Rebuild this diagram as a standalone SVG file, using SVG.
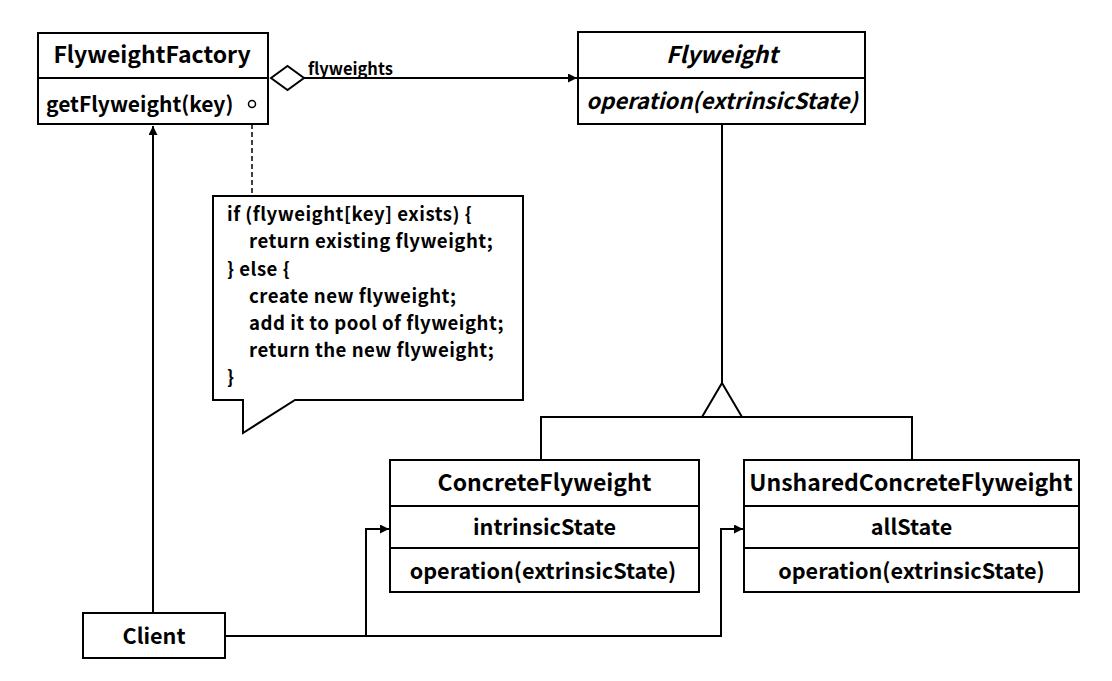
<svg xmlns="http://www.w3.org/2000/svg" width="1112" height="681" viewBox="0 0 1112 681">
<style>
.box{fill:#fff;stroke:#000;stroke-width:2}
.ln{fill:none;stroke:#000;stroke-width:2}
text{font-family:"Noto Sans CJK KR","Noto Sans",sans-serif;font-weight:bold;fill:#000}
.t{font-size:23px;text-anchor:middle}
.m{font-size:21.6px;text-anchor:middle}
.it{font-style:italic}
.n{font-size:18.6px;letter-spacing:0.5px}
.lbl{font-size:16.5px}
</style>
<defs>
<marker id="arr" viewBox="0 0 10 10" refX="10" refY="5" markerWidth="9" markerHeight="9" markerUnits="userSpaceOnUse" orient="auto">
<path d="M0,0 L10,5 L0,10 z" fill="#000"/>
</marker>
</defs>
<rect width="1112" height="681" fill="#fff"/>
<g id="connectors">
<line class="ln" x1="304" y1="78" x2="577" y2="78" marker-end="url(#arr)"/>
<polygon class="box" points="271,78 287.5,66 304,78 287.5,90"/>
<line class="ln" x1="153" y1="613" x2="153" y2="126" marker-end="url(#arr)"/>
<line x1="252" y1="108" x2="252" y2="196" stroke="#000" stroke-width="1.5" stroke-dasharray="5,3"/>
<polyline class="ln" points="722,124 722,383"/>
<polygon class="box" points="722,383 742,417 702,417"/>
<polyline class="ln" points="541,460 541,417 912,417 912,460"/>
<polyline class="ln" points="225,636 721,636 721,529 743,529" marker-end="url(#arr)"/>
<polyline class="ln" points="366,636 366,529 389,529" marker-end="url(#arr)"/>
</g>
<g id="FlyweightFactory">
<rect class="box" x="38" y="33" width="230" height="91"/>
<line class="ln" x1="38" y1="78" x2="268" y2="78"/>
<text class="t" x="152" y="63">FlyweightFactory</text>
<text x="46" y="112" font-size="21">getFlyweight(key)</text>
<circle cx="252" cy="104" r="3.5" fill="#fff" stroke="#000" stroke-width="1.5"/>
</g>
<g id="flyweights-label">
<text class="lbl" x="308" y="75">flyweights</text>
</g>
<g id="Flyweight">
<rect class="box" x="578" y="32" width="287" height="92"/>
<line class="ln" x1="578" y1="78" x2="865" y2="78"/>
<text class="t it" x="722" y="63">Flyweight</text>
<text class="it" x="722" y="109" font-size="22" text-anchor="middle">operation(extrinsicState)</text>
</g>
<g id="note">
<path class="box" d="M213,196 H523 V400 H295 L243,433 V400 H213 Z"/>
<text class="n" x="227" y="221">if (flyweight[key] exists) {</text>
<text class="n" x="249" y="248">return existing flyweight;</text>
<text class="n" x="227" y="276">} else {</text>
<text class="n" x="249" y="303">create new flyweight;</text>
<text class="n" x="249" y="330">add it to pool of flyweight;</text>
<text class="n" x="249" y="357">return the new flyweight;</text>
<text class="n" x="227" y="384">}</text>
</g>
<g id="ConcreteFlyweight">
<rect class="box" x="390" y="460" width="309" height="132"/>
<line class="ln" x1="390" y1="506" x2="699" y2="506"/>
<line class="ln" x1="390" y1="548" x2="699" y2="548"/>
<text class="t" x="544.5" y="491">ConcreteFlyweight</text>
<text class="m" x="544.5" y="535">intrinsicState</text>
<text class="m" x="543" y="579">operation(extrinsicState)</text>
</g>
<g id="UnsharedConcreteFlyweight">
<rect class="box" x="744" y="460" width="335" height="132"/>
<line class="ln" x1="744" y1="506" x2="1079" y2="506"/>
<line class="ln" x1="744" y1="548" x2="1079" y2="548"/>
<text class="t" x="911" y="491">UnsharedConcreteFlyweight</text>
<text class="m" x="911.5" y="535">allState</text>
<text class="m" x="911.5" y="579">operation(extrinsicState)</text>
</g>
<g id="Client">
<rect class="box" x="83" y="613" width="142" height="45"/>
<text class="m" x="154" y="644" font-size="22">Client</text>
</g>
</svg>
